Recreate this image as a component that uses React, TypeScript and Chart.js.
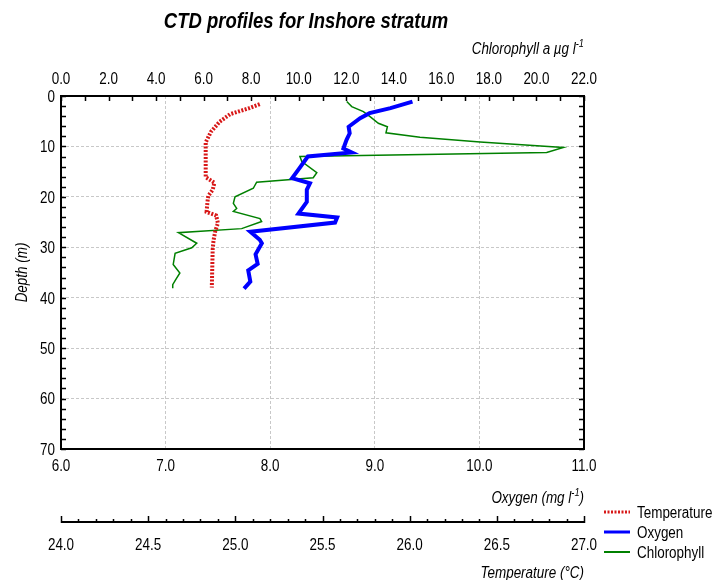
import React, { useEffect, useRef } from "react";
import { Chart, registerables } from "chart.js";

Chart.register(...registerables);

const FONT = "'Liberation Sans', Arial, sans-serif";
const SX = 0.84; // horizontal compression to mimic the narrow face of the original
const DY = 1.5; // small baseline nudge for text

const tempDepth = [1.6, 2.4, 3.6, 5.1, 7.1, 9.2, 12.0, 16.1, 17.2, 18.6, 19.8, 21.0, 23.0, 23.7, 25.2, 26.8, 28.6, 30.5, 38.0];
const tempValues = [25.14, 25.08, 24.97, 24.91, 24.86, 24.83, 24.83, 24.83, 24.88, 24.87, 24.845, 24.84, 24.835, 24.89, 24.9, 24.885, 24.875, 24.87, 24.865];

const oxyDepth = [1.1, 2.4, 3.4, 4.4, 6.1, 7.4, 8.7, 10.4, 11.2, 12.0, 14.3, 16.3, 17.3, 18.6, 21.0, 23.3, 24.1, 25.1, 26.9, 28.5, 29.2, 31.4, 33.3, 34.6, 36.8, 38.2];
const oxyValues = [9.36, 9.15, 8.95, 8.86, 8.75, 8.76, 8.73, 8.7, 8.78, 8.36, 8.28, 8.21, 8.38, 8.35, 8.35, 8.27, 8.64, 8.62, 7.81, 7.9, 7.92, 7.86, 7.88, 7.79, 7.81, 7.75];

const chlDepth = [1.1, 2.1, 3.1, 4.1, 5.4, 6.1, 7.3, 8.2, 9.1, 10.2, 11.2, 12.0, 13.0, 15.2, 16.2, 17.1, 18.3, 20.0, 21.3, 22.3, 22.9, 24.3, 24.9, 26.3, 27.1, 29.2, 30.1, 31.2, 33.4, 35.1, 36.6, 37.4, 38.1];
const chlValues = [12.02, 12.23, 12.72, 13.0, 13.35, 13.73, 13.67, 15.1, 17.63, 21.13, 20.43, 10.05, 10.13, 10.76, 10.61, 8.23, 8.09, 7.32, 7.25, 7.39, 7.25, 8.37, 8.44, 7.6, 4.94, 5.71, 5.5, 4.8, 4.72, 5.0, 4.8, 4.7, 4.7];

const seriesNames = ["Temperature", "Oxygen", "Chlorophyll"];
const chartTitle = "CTD profiles for Inshore stratum";
const depthTitle = "Depth (m)";
const tempTitle = "Temperature (\u00b0C)";

const toPoints = (xs: number[], ys: number[]) => xs.map((x, i) => ({ x, y: ys[i] }));

function txt(ctx: any, text: string, x: number, y: number, font: string, align: string, rot = 0) {
  ctx.save();
  ctx.translate(x, y);
  if (rot) ctx.rotate(rot);
  ctx.scale(SX, 1);
  ctx.font = font;
  ctx.textAlign = align;
  ctx.textBaseline = "middle";
  ctx.fillStyle = "#000";
  ctx.fillText(text, 0, rot ? 0 : DY);
  ctx.restore();
}

function width(ctx: any, text: string, font: string) {
  ctx.font = font;
  return ctx.measureText(text).width * SX;
}

const overlay = {
  id: "overlay",
  afterDraw(chart: any) {
    const ctx = chart.ctx;
    const ca = chart.chartArea;
    const sc = chart.scales;
    const tick = `16px ${FONT}`;
    const ital = `italic 16px ${FONT}`;
    const sup = `italic 11px ${FONT}`;
    ctx.save();
    // frame
    ctx.strokeStyle = "#000";
    ctx.lineWidth = 2;
    ctx.setLineDash([]);
    ctx.strokeRect(ca.left, ca.top, ca.right - ca.left, ca.bottom - ca.top);
    ctx.lineWidth = 1.5;
    ctx.beginPath();
    for (let v = 0; v <= 22; v += 1) {
      const x = Math.round(sc.xC.getPixelForValue(v)) + 0.5;
      ctx.moveTo(x, ca.top);
      ctx.lineTo(x, ca.top + 5);
    }
    for (let d = 0; d <= 70; d += 2) {
      const y = Math.round(sc.y.getPixelForValue(d)) + 0.5;
      ctx.moveTo(ca.left, y);
      ctx.lineTo(ca.left + 5, y);
      ctx.moveTo(ca.right, y);
      ctx.lineTo(ca.right - 5, y);
    }
    ctx.stroke();
    // temperature axis
    const tY = sc.xT.top + 1;
    ctx.lineWidth = 2;
    ctx.beginPath();
    ctx.moveTo(sc.xT.left, tY);
    ctx.lineTo(sc.xT.right, tY);
    ctx.stroke();
    ctx.lineWidth = 1.5;
    ctx.beginPath();
    for (let i = 0; i <= 30; i++) {
      const v = 24 + i * 0.1;
      const x = Math.round(sc.xT.getPixelForValue(v)) + 0.5;
      const major = i % 5 === 0;
      ctx.moveTo(x, tY + 1);
      ctx.lineTo(x, tY - (major ? 6 : 3));
    }
    ctx.stroke();

    // tick labels from the scales
    sc.xC.ticks.forEach((t: any) => txt(ctx, Number(t.value).toFixed(1), sc.xC.getPixelForValue(t.value), sc.xC.bottom - 18, tick, "center"));
    sc.x.ticks.forEach((t: any) => txt(ctx, Number(t.value).toFixed(1), sc.x.getPixelForValue(t.value), sc.x.top + 16, tick, "center"));
    sc.xT.ticks.forEach((t: any) => txt(ctx, Number(t.value).toFixed(1), sc.xT.getPixelForValue(t.value), sc.xT.top + 23, tick, "center"));
    sc.y.ticks.forEach((t: any) => txt(ctx, String(t.value), sc.y.right - 6, sc.y.getPixelForValue(t.value), tick, "right"));

    // titles
    txt(ctx, chartTitle, 306, 20, `italic bold 22px ${FONT}`, "center");
    txt(ctx, depthTitle, 23, (ca.top + ca.bottom) / 2, ital, "center", -Math.PI / 2);
    txt(ctx, tempTitle, sc.xT.right, 572, ital, "right");

    const drawSup = (parts: [string, boolean][], right: number, y: number) => {
      let w = 0;
      for (const [t, s] of parts) w += width(ctx, t, s ? sup : ital);
      let x = right - w;
      for (const [t, s] of parts) {
        txt(ctx, t, x, s ? y - 6 : y, s ? sup : ital, "left");
        x += width(ctx, t, s ? sup : ital);
      }
    };
    drawSup([["Chlorophyll a \u00b5g l", false], ["-1", true]], sc.xC.right, 48);
    drawSup([["Oxygen (mg l", false], ["-1", true], [")", false]], sc.x.right, 497);

    // legend
    chart.data.datasets.forEach((ds: any, i: number) => {
      const y = 512 + i * 20;
      ctx.strokeStyle = ds.borderColor;
      ctx.lineWidth = ds.legendWidth;
      ctx.setLineDash(ds.borderDash || []);
      ctx.beginPath();
      ctx.moveTo(604, y);
      ctx.lineTo(630, y);
      ctx.stroke();
      ctx.setLineDash([]);
      txt(ctx, ds.label, 637, y, tick, "left");
    });
    ctx.restore();
  },
};

export default function App() {
  const ref = useRef<HTMLCanvasElement>(null);
  useEffect(() => {
    if (!ref.current) return;
    const noTicks = { display: false };
    const chart = new Chart(ref.current, {
      type: "scatter",
      data: {
        datasets: [
          {
            label: seriesNames[0],
            data: toPoints(tempValues, tempDepth),
            xAxisID: "xT",
            yAxisID: "y",
            showLine: true,
            borderColor: "#d81818",
            borderWidth: 4,
            borderDash: [2, 1.5],
            pointRadius: 0,
            legendWidth: 3,
          } as any,
          {
            label: seriesNames[1],
            data: toPoints(oxyValues, oxyDepth),
            xAxisID: "x",
            yAxisID: "y",
            showLine: true,
            borderColor: "#0000ff",
            borderWidth: 4,
            pointRadius: 0,
            legendWidth: 3,
          } as any,
          {
            label: seriesNames[2],
            data: toPoints(chlValues, chlDepth),
            xAxisID: "xC",
            yAxisID: "y",
            showLine: true,
            borderColor: "#008000",
            borderWidth: 1.5,
            pointRadius: 0,
            legendWidth: 2,
          } as any,
        ],
      },
      options: {
        animation: false,
        responsive: false,
        layout: { padding: { left: 0, right: 131, top: 0, bottom: 0 } },
        plugins: { legend: { display: false }, tooltip: { enabled: false } },
        scales: {
          y: {
            type: "linear",
            position: "left",
            reverse: true,
            min: 0,
            max: 70,
            ticks: { ...noTicks, stepSize: 10 },
            grid: { color: "#c8c8c8", lineWidth: 1, drawTicks: false, tickLength: 0 },
            border: { display: false, dash: [3, 2] },
            afterFit: (s: any) => {
              s.width = 61;
            },
          },
          x: {
            type: "linear",
            position: "bottom",
            min: 6,
            max: 11,
            weight: 0,
            ticks: { ...noTicks, stepSize: 1 },
            grid: { color: "#c8c8c8", lineWidth: 1, drawTicks: false, tickLength: 0 },
            border: { display: false, dash: [3, 2] },
            afterFit: (s: any) => {
              s.height = 72;
            },
          },
          xC: {
            type: "linear",
            axis: "x",
            position: "top",
            min: 0,
            max: 22,
            ticks: { ...noTicks, stepSize: 2 },
            grid: { display: false, drawTicks: false, tickLength: 0 },
            border: { display: false },
            afterFit: (s: any) => {
              s.height = 96;
            },
          },
          xT: {
            type: "linear",
            axis: "x",
            position: "bottom",
            weight: 1,
            min: 24,
            max: 27,
            ticks: { ...noTicks, stepSize: 0.5 },
            grid: { display: false, drawTicks: false, tickLength: 0 },
            border: { display: false },
            afterFit: (s: any) => {
              s.height = 59;
            },
          },
        },
      } as any,
      plugins: [overlay],
    });
    return () => chart.destroy();
  }, []);
  return (
    <div style={{ position: "absolute", left: 0, top: 0, width: 715, height: 580, background: "#fff" }}>
      <canvas ref={ref} width={715} height={580} style={{ display: "block" }} />
    </div>
  );
}
